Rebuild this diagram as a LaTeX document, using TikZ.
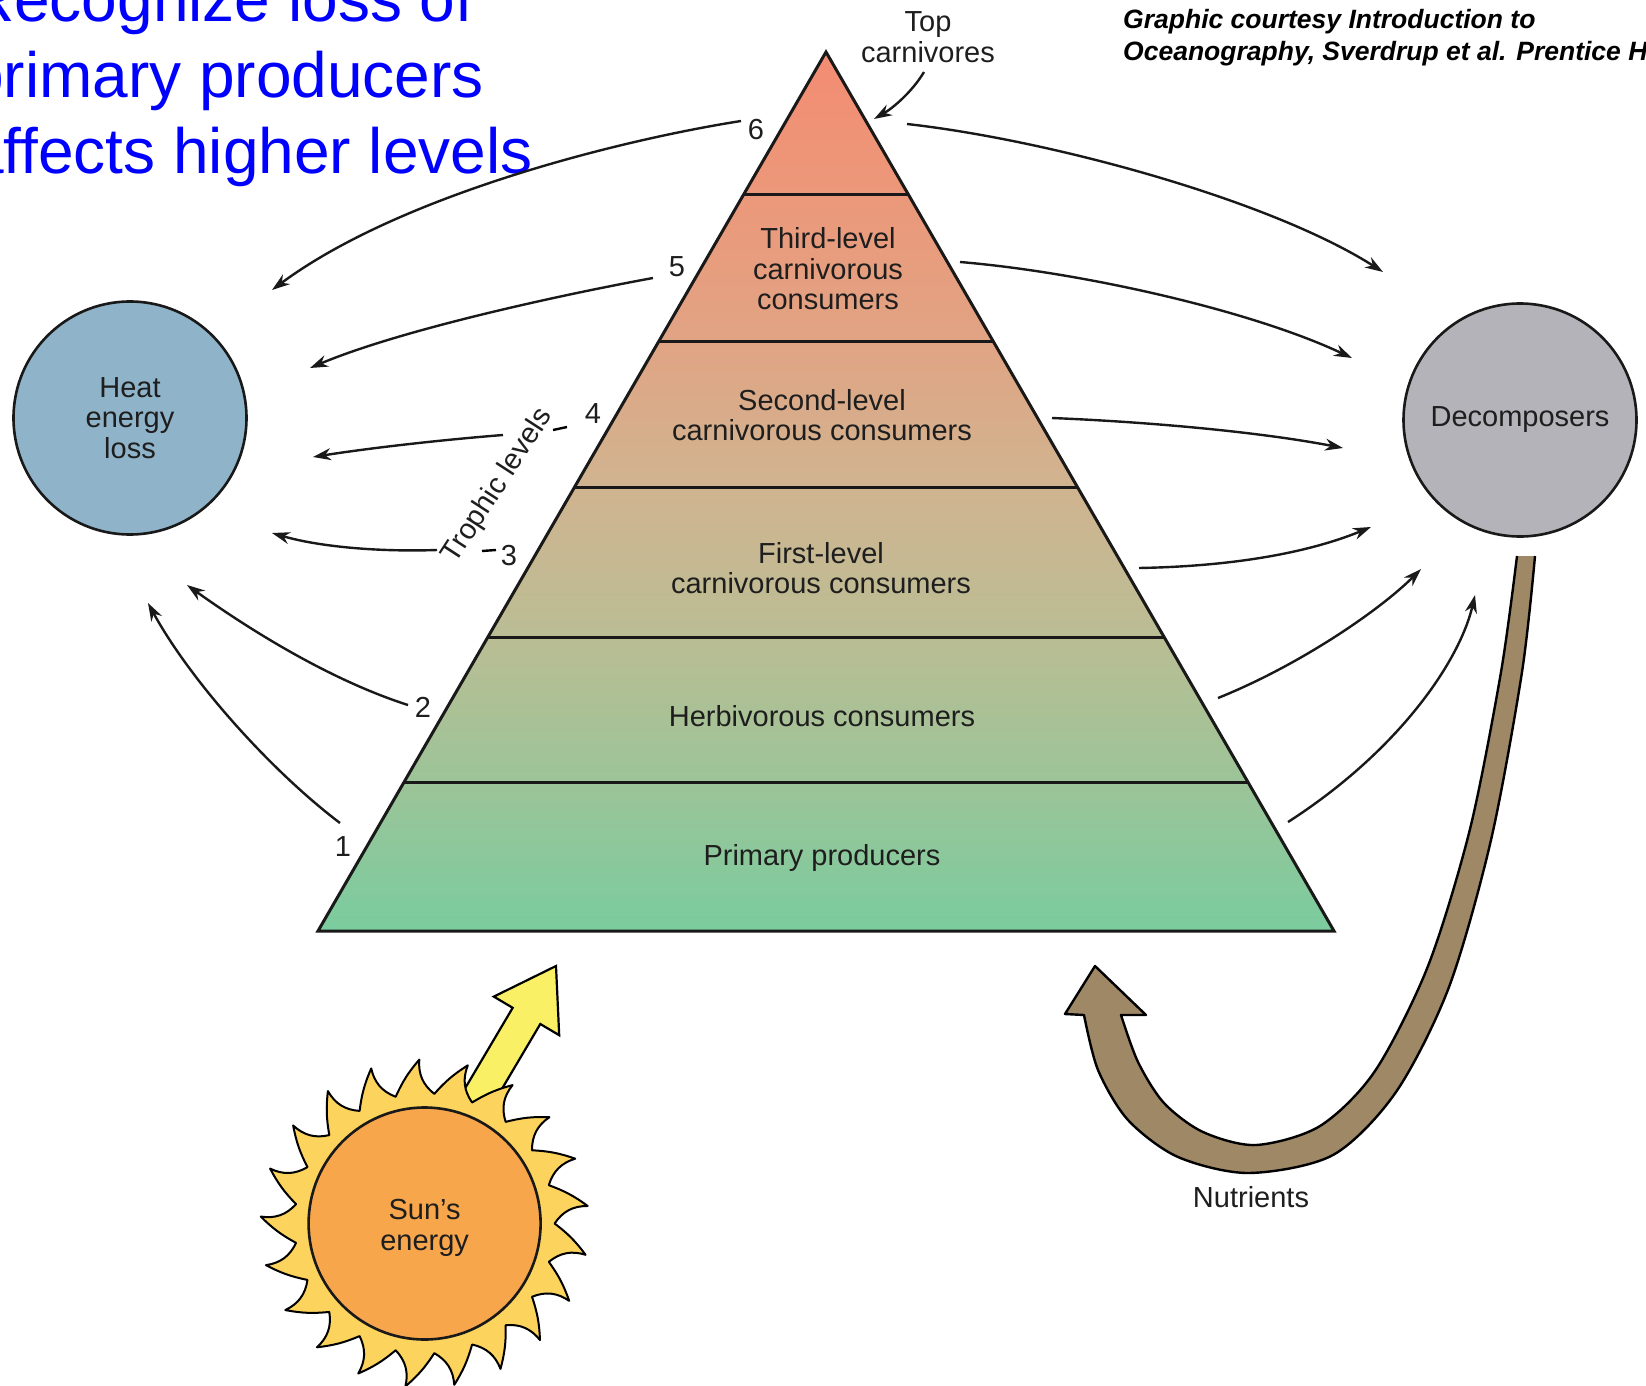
\documentclass[tikz,border=0pt]{standalone}
\usepackage{fontspec}
\setmainfont{Liberation Sans}
\usetikzlibrary{arrows.meta,calc}

\definecolor{labelink}{RGB}{30,30,30}
\definecolor{titleblue}{RGB}{0,0,255}
\definecolor{heatblue}{RGB}{143,179,201}
\definecolor{decgray}{RGB}{179,179,185}
\definecolor{sunorange}{RGB}{247,166,76}
\definecolor{rayyellow}{RGB}{252,211,92}
\definecolor{beamyellow}{RGB}{249,240,102}
\definecolor{nutbrown}{RGB}{158,136,102}
% pyramid band colours, top to bottom
\definecolor{pa}{RGB}{243,140,114}
\definecolor{pb}{RGB}{236,152,122}
\definecolor{pc}{RGB}{224,164,132}
\definecolor{pd}{RGB}{208,180,144}
\definecolor{pe}{RGB}{186,189,148}
\definecolor{pf}{RGB}{156,196,152}
\definecolor{pg}{RGB}{122,204,158}

\begin{document}
\begin{tikzpicture}[x=1pt,y=-1pt,
  lbl/.style={font=\fontsize{29}{30.5}\selectfont, text=labelink, align=center, inner sep=0pt},
  num/.style={font=\fontsize{29}{30}\selectfont, text=labelink, inner sep=0pt},
  flow/.style={line width=2.4pt, draw=black!90, -{Stealth[length=18pt,width=12pt]}},
  band/.style={line width=3pt, draw=black!90},
  ball/.style={circle, draw=black!90, line width=2.6pt, minimum size=233pt, inner sep=0pt},
  credit/.style={anchor=base west, font=\fontsize{26.5}{30}\selectfont\bfseries\itshape, inner sep=0pt},
  headline/.style={anchor=base west, font=\fontsize{64}{77}\selectfont, text=titleblue, inner sep=0pt},
]
\useasboundingbox (0,0) rectangle (1646,1386);
\clip (0,0) rectangle (1646,1386);

% ---------- heading and credit ----------
\node[headline] (head1) at (-32,22)  {Recognize loss of};
\node[headline] (head2) at (-32,98)  {primary producers};
\node[headline] (head3) at (-32,173) {affects higher levels};
\node[credit] (cred1) at (1123,29) {Graphic courtesy Introduction to};
\node[credit] (cred2) at (1123,61) {Oceanography, Sverdrup et al. Prentice Hall};

% ---------- trophic pyramid ----------
\shade[top color=pa, bottom color=pb] (826,52) -- (908.1,194) -- (743.9,194) -- cycle;
\shade[top color=pb, bottom color=pc] (743.9,194) -- (908.1,194) -- (993,341) -- (659,341) -- cycle;
\shade[top color=pc, bottom color=pd] (659,341) -- (993,341) -- (1077.4,487) -- (574.6,487) -- cycle;
\shade[top color=pd, bottom color=pe] (574.6,487) -- (1077.4,487) -- (1164.1,637) -- (487.9,637) -- cycle;
\shade[top color=pe, bottom color=pf] (487.9,637) -- (1164.1,637) -- (1247.9,782) -- (404.1,782) -- cycle;
\shade[top color=pf, bottom color=pg] (404.1,782) -- (1247.9,782) -- (1334,931) -- (318,931) -- cycle;
\draw[band, line join=miter] (826,52) -- (1334,931) -- (318,931) -- cycle;
\foreach \y/\xl/\xr in {194/743.9/908.1, 341/659/993, 487/574.6/1077.4, 637/487.9/1164.1, 782/404.1/1247.9}
  \draw[band] (\xl,\y) -- (\xr,\y);

\node[lbl] (third)  at (828,269) {Third-level\\carnivorous\\consumers};
\node[lbl] (second) at (822,415) {Second-level\\carnivorous consumers};
\node[lbl] (first)  at (821,568) {First-level\\carnivorous consumers};
\node[lbl] (herb)   at (822,716) {Herbivorous consumers};
\node[lbl] (prim)   at (822,858) {Primary producers};
\node[lbl] (topc)   at (928,37)  {Top\\carnivores};

% ---------- side pools ----------
\node[ball, fill=heatblue, lbl] (heat) at (130,418) {Heat\\energy\\loss};
\node[ball, fill=decgray, lbl] (decomp) at (1520,420) {Decomposers};

% ---------- trophic level numbers ----------
\node[num] (n6) at (756,130) {6};
\node[num] (n5) at (677,267) {5};
\node[num] (n4) at (593,414) {4};
\node[num] (n3) at (509,556) {3};
\node[num] (n2) at (423,707) {2};
\node[num] (n1) at (343,847) {1};
\node[lbl, rotate=57] (troph) at (498,486) {Trophic levels};
\coordinate (d4a) at (553,430); \coordinate (d4b) at (567,427);
\coordinate (d3a) at (482,551); \coordinate (d3b) at (496,550);
\draw[line width=2.4pt] (d4a) -- (d4b);
\draw[line width=2.4pt] (d3a) -- (d3b);

% ---------- heat losses ----------
\coordinate (l6s) at (741,121); \coordinate (l6e) at (272,290);
\coordinate (l5s) at (653,278); \coordinate (l5e) at (310,368);
\coordinate (l4s) at (503,435); \coordinate (l4e) at (313,457);
\coordinate (l3s) at (437,550); \coordinate (l3e) at (272,533);
\coordinate (l2s) at (408,705); \coordinate (l2e) at (187,585);
\coordinate (l1s) at (340,823); \coordinate (l1e) at (148,603);
\draw[flow] (l6s) .. controls (620,140) and (400,195) .. (l6e);
\draw[flow] (l5s) .. controls (560,295) and (400,330) .. (l5e);
\draw[flow] (l4s) .. controls (440,440) and (370,448) .. (l4e);
\draw[flow] (l3s) .. controls (380,552) and (320,547) .. (l3e);
\draw[flow] (l2s) .. controls (330,680) and (250,630) .. (l2e);
\draw[flow] (l1s) .. controls (270,770) and (190,680) .. (l1e);

% ---------- flows to decomposers ----------
\coordinate (r6s) at (907,124);  \coordinate (r6e) at (1383,272);
\coordinate (r5s) at (960,262);  \coordinate (r5e) at (1352,358);
\coordinate (r4s) at (1052,418); \coordinate (r4e) at (1343,448);
\coordinate (r3s) at (1139,568); \coordinate (r3e) at (1371,527);
\coordinate (r2s) at (1218,698); \coordinate (r2e) at (1421,569);
\coordinate (r1s) at (1288,822); \coordinate (r1e) at (1475,595);
\draw[flow] (r6s) .. controls (1050,140) and (1270,200) .. (r6e);
\draw[flow] (r5s) .. controls (1080,272) and (1250,310) .. (r5e);
\draw[flow] (r4s) .. controls (1150,422) and (1260,432) .. (r4e);
\draw[flow] (r3s) .. controls (1250,566) and (1320,548) .. (r3e);
\draw[flow] (r2s) .. controls (1300,665) and (1380,610) .. (r2e);
\draw[flow] (r1s) .. controls (1400,750) and (1460,660) .. (r1e);

% pointer to the apex
\coordinate (tcs) at (924,72); \coordinate (tce) at (874,119);
\draw[flow] (tcs) .. controls (912,92) and (893,108) .. (tce);

% ---------- nutrient return ----------
\fill[nutbrown] (1095,966) -- (1065,1014) -- (1084,1015)
  -- plot[smooth] coordinates {(1084,1015) (1098,1070) (1128,1120) (1178,1157) (1249,1173) (1333,1155) (1396,1092) (1449,987) (1491,840) (1522,672) (1535,556)}
  -- plot[smooth] coordinates {(1517,556) (1501,672) (1470,829) (1428,966) (1375,1071) (1320,1126) (1256,1145) (1203,1132) (1164,1103) (1138,1062) (1121,1015)}
  -- (1146,1015) -- cycle;
\draw[line width=2.4pt, line join=round]
  plot[smooth] coordinates {(1535,556) (1522,672) (1491,840) (1449,987) (1396,1092) (1333,1155) (1249,1173) (1178,1157) (1128,1120) (1098,1070) (1084,1015)}
  -- (1065,1014) -- (1095,966) -- (1146,1015) -- (1121,1015)
  -- plot[smooth] coordinates {(1121,1015) (1138,1062) (1164,1103) (1203,1132) (1256,1145) (1320,1126) (1375,1071) (1428,966) (1470,829) (1501,672) (1517,556)};
\node[lbl] (nutr) at (1251,1197) {Nutrients};

% ---------- the sun ----------
\filldraw[fill=beamyellow, line width=2.2pt, line join=miter]
  (556,966) -- (559.2,1035.2) -- (540.3,1024.0) -- (479.2,1127.3)
  -- (451.6,1111.1) -- (512.7,1007.8) -- (493.8,996.6) -- cycle;
\begin{scope}[shift={(424.6,1223.5)}]
  \filldraw[fill=rayyellow, line width=2pt, line join=round] (0:130)
    \foreach \i in {0,...,20} {
      to[bend left=8] ({\i*360/21+11}:164)
      to[bend right=28] ({(\i+1)*360/21}:130)
    } -- cycle;
\end{scope}
\node[ball, fill=sunorange, minimum size=232pt] (sun) at (424.6,1223.5) {};
\node[lbl] (sunlbl) at (424.6,1228) {Sun’s\\energy};

\end{tikzpicture}
\end{document}
